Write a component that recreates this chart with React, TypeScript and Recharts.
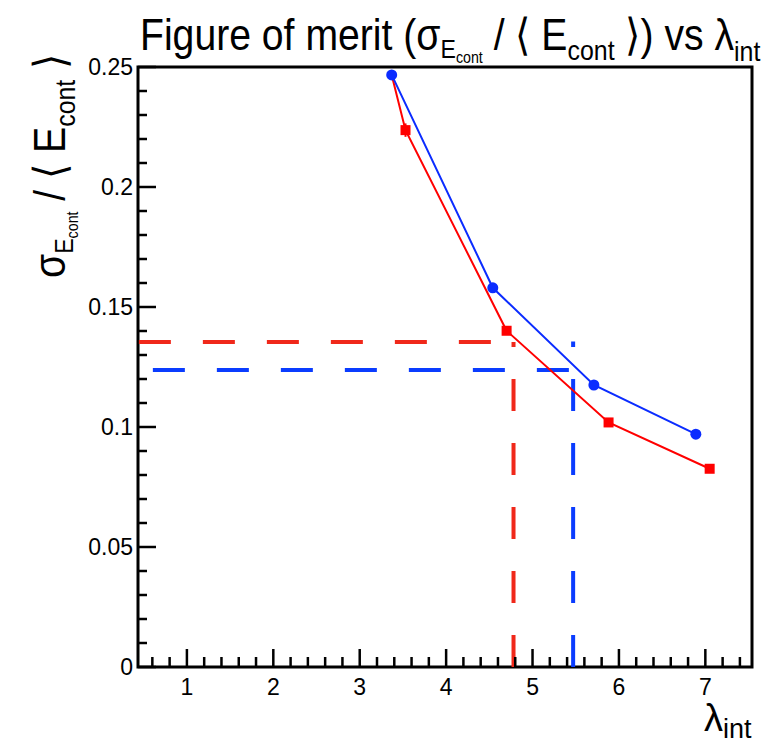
import React from "react";
import {
  ComposedChart,
  Line,
  XAxis,
  YAxis,
  ReferenceLine,
  ReferenceArea,
  ErrorBar
} from "recharts";

// blue series (circles)
const bluePoints = [
  { lambda: 3.37, fom: 0.2467 },
  { lambda: 4.54, fom: 0.158 },
  { lambda: 5.71, fom: 0.1175 },
  { lambda: 6.89, fom: 0.097 }
];

// red series (squares), first point sits under the blue one
const redPoints = [
  { lambda: 3.37, fom: 0.2467, err: 0 },
  { lambda: 3.53, fom: 0.2237, err: 0.0028 },
  { lambda: 4.7, fom: 0.1401, err: 0 },
  { lambda: 5.88, fom: 0.1019, err: 0 },
  { lambda: 7.05, fom: 0.0826, err: 0 }
];

// dashed guide lines
const redGuide = { from: 0.444, lambda: 4.78, fom: 0.1354, top: 0.1354 };
const blueGuide = { from: 0.606, lambda: 5.47, fom: 0.1237, top: 0.1356 };

const xDomain = [0.434, 7.54];
const yDomain = [0, 0.25];

const xTicks = [
  0.6, 0.8, 1, 1.2, 1.4, 1.6, 1.8, 2, 2.2, 2.4, 2.6, 2.8, 3, 3.2, 3.4, 3.6, 3.8,
  4, 4.2, 4.4, 4.6, 4.8, 5, 5.2, 5.4, 5.6, 5.8, 6, 6.2, 6.4, 6.6, 6.8, 7, 7.2, 7.4
];
const yTicks = [
  0, 0.01, 0.02, 0.03, 0.04, 0.05, 0.06, 0.07, 0.08, 0.09, 0.1, 0.11, 0.12, 0.13,
  0.14, 0.15, 0.16, 0.17, 0.18, 0.19, 0.2, 0.21, 0.22, 0.23, 0.24, 0.25
];

const FONT = "'Liberation Sans', Arial, Helvetica, sans-serif";
const RED = "#ff0000";
const BLUE = "#0b2cff";
const RED_DASH = "#f0281a";
const BLUE_DASH = "#0a3cff";

const XTick = (props: any) => {
  const { x, y, payload } = props;
  const v = payload.value;
  const major = Math.abs(v - Math.round(v)) < 1e-6;
  return (
    <g>
      <line x1={x} x2={x} y1={y} y2={y - (major ? 18 : 10)} stroke="#000" strokeWidth={2.5} />
      {major && (
        <text x={x} y={y + 28} textAnchor="middle" fontSize={23} fontFamily={FONT} fill="#000">
          {v}
        </text>
      )}
    </g>
  );
};

const YTick = (props: any) => {
  const { x, y, payload } = props;
  const v = payload.value;
  const major = Math.abs(v * 20 - Math.round(v * 20)) < 1e-6;
  return (
    <g>
      <line x1={x} x2={x + (major ? 18 : 9)} y1={y} y2={y} stroke="#000" strokeWidth={2.5} />
      {major && (
        <text x={x - 5} y={y + 8} textAnchor="end" fontSize={23} fontFamily={FONT} fill="#000">
          {v}
        </text>
      )}
    </g>
  );
};

const RedSquare = (props: any) => {
  const { cx, cy, index } = props;
  if (index === 0 || cx == null) return <g key={`rs${index}`} />;
  return <rect key={`rs${index}`} x={cx - 5} y={cy - 5} width={10} height={10} fill={RED} />;
};

const BlueDot = (props: any) => {
  const { cx, cy, index } = props;
  if (cx == null) return <g key={`bd${index}`} />;
  return <circle key={`bd${index}`} cx={cx} cy={cy} r={5.5} fill={BLUE} />;
};

type Seg = { t: string; s: number; b: number };

const Rich = ({ segs }: { segs: Seg[] }) => {
  let prev = 0;
  return (
    <text x={0} y={0} fontFamily={FONT} fill="#000">
      {segs.map((g, i) => {
        const dy = g.b - prev;
        prev = g.b;
        return (
          <tspan key={i} fontSize={g.s} dy={dy}>
            {g.t}
          </tspan>
        );
      })}
    </text>
  );
};

const titleSegs: Seg[] = [
  { t: "Figure of merit (σ", s: 44, b: 0 },
  { t: "E", s: 26, b: 8 },
  { t: "cont", s: 16, b: 13 },
  { t: " / ⟨ E", s: 44, b: 0 },
  { t: "cont", s: 28, b: 10 },
  { t: " ⟩) vs λ", s: 44, b: 0 },
  { t: "int", s: 28, b: 11 }
];

const yLabelSegs: Seg[] = [
  { t: "σ", s: 44, b: 0 },
  { t: "E", s: 26, b: 8 },
  { t: "cont", s: 16, b: 13 },
  { t: " / ⟨ E", s: 44, b: 0 },
  { t: "cont", s: 28, b: 10 },
  { t: " ⟩", s: 44, b: 0 }
];

const xLabelSegs: Seg[] = [
  { t: "λ", s: 38, b: 0 },
  { t: "int", s: 27, b: 7 }
];

export default function App() {
  return (
    <div style={{ position: "absolute", left: 0, top: 0, width: 777, height: 745, background: "#fff" }}>
      <ComposedChart
        width={777}
        height={745}
        margin={{ top: 67, right: 25, left: 0, bottom: 0 }}
      >
        <XAxis
          type="number"
          dataKey="lambda"
          domain={xDomain}
          allowDataOverflow
          ticks={xTicks}
          interval={0}
          tick={<XTick />}
          tickSize={0}
          tickMargin={0}
          axisLine={false}
          tickLine={false}
          height={78}
        />
        <YAxis
          type="number"
          domain={yDomain}
          allowDataOverflow
          ticks={yTicks}
          interval={0}
          tick={<YTick />}
          tickSize={0}
          tickMargin={0}
          axisLine={false}
          tickLine={false}
          width={138}
        />
        <ReferenceArea
          x1={xDomain[0]}
          x2={xDomain[1]}
          y1={yDomain[0]}
          y2={yDomain[1]}
          fill="none"
          stroke="#000"
          strokeWidth={3}
          ifOverflow="visible"
        />
        <ReferenceLine
          segment={[{ x: redGuide.from, y: redGuide.fom }, { x: redGuide.lambda, y: redGuide.fom }]}
          stroke={RED_DASH}
          strokeWidth={4}
          strokeDasharray="32 32"
          ifOverflow="visible"
        />
        <ReferenceLine
          segment={[{ x: redGuide.lambda, y: 0 }, { x: redGuide.lambda, y: redGuide.top }]}
          stroke={RED_DASH}
          strokeWidth={4}
          strokeDasharray="32 32"
          ifOverflow="visible"
        />
        <ReferenceLine
          segment={[{ x: blueGuide.from, y: blueGuide.fom }, { x: blueGuide.lambda, y: blueGuide.fom }]}
          stroke={BLUE_DASH}
          strokeWidth={4}
          strokeDasharray="32 32"
          ifOverflow="visible"
        />
        <ReferenceLine
          segment={[{ x: blueGuide.lambda, y: 0 }, { x: blueGuide.lambda, y: blueGuide.top }]}
          stroke={BLUE_DASH}
          strokeWidth={4}
          strokeDasharray="32 32"
          ifOverflow="visible"
        />
        <Line
          data={redPoints}
          dataKey="fom"
          type="linear"
          stroke={RED}
          strokeWidth={2}
          dot={RedSquare}
          activeDot={false}
          isAnimationActive={false}
        >
          <ErrorBar dataKey="err" direction="y" width={0} stroke={RED} strokeWidth={2} />
        </Line>
        <Line
          data={bluePoints}
          dataKey="fom"
          type="linear"
          stroke={BLUE}
          strokeWidth={2}
          dot={BlueDot}
          activeDot={false}
          isAnimationActive={false}
        />
      </ComposedChart>
      <svg
        width={777}
        height={745}
        style={{ position: "absolute", left: 0, top: 0, pointerEvents: "none" }}
      >
        <g transform="translate(140,50) scale(0.89,1)">
          <Rich segs={titleSegs} />
        </g>
        <g transform="translate(65,278) rotate(-90) scale(0.89,1)">
          <Rich segs={yLabelSegs} />
        </g>
        <g transform="translate(704,731)">
          <Rich segs={xLabelSegs} />
        </g>
      </svg>
    </div>
  );
}
